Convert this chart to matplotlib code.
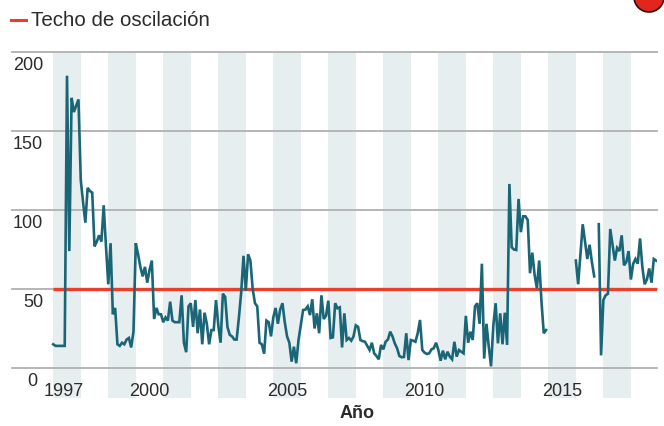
import matplotlib
matplotlib.use('Agg')
import matplotlib.pyplot as plt
import matplotlib.patches as mpatches
import matplotlib.lines as mlines
import matplotlib.transforms as mtransforms
import numpy as np

# Serie mensual desde enero de 1997 (None = sin dato)
anio_inicio = 1997
valores_1997_2001 = [15, 14, 14, 14, 14, 14, 185, 74, 171, 162, 166, 170, 119, 105, 92, 114,
                     112, 111, 77, 80, 84, 80, 103, 77, 53, 79, 34, 38, 15, 14, 16, 15, 18, 19,
                     13, 23, 79, 72, 64, 58, 64, 54, 62, 68, 31, 38, 34, 34, 29, 32, 30, 42]
valores_2001_2005 = [30, 29, 29, 29, 46, 16, 10, 39, 41, 26, 43, 22, 37, 15, 35, 28, 15, 24,
                     24, 43, 27, 16, 47, 45, 26, 21, 20, 18, 18, 32, 48, 71, 49, 72, 68, 50,
                     41, 39, 16, 15, 9, 30, 29, 20, 32, 38, 28, 37, 41, 29, 20, 16, 4]
valores_2005_2010 = [13.5, 3, 17.7, 27, 36.7, 37, 39, 33.5, 43.5, 25, 34.6, 22, 46, 31, 33,
                     42.6, 19, 19.4, 41, 37.8, 38.4, 13, 34.6, 17.7, 19, 17.3, 20, 27, 26, 17.7,
                     17, 16.6, 14, 11.4, 16, 9.3, 7.6, 5.5, 14.6, 11.8, 16.6, 18, 23, 20, 15.6,
                     12.5, 7.6, 6.8, 7, 22, 5, 17.7, 17.3]
valores_2010_2014 = [16.6, 22, 30.4, 11.4, 9.7, 8.9, 9.3, 11.8, 12.5, 16, 11.4, 4.6, 11, 5.5,
                     10.3, 7.2, 5.5, 16.6, 7.2, 11.4, 10.3, 9.3, 33, 16, 23, 17.7, 39, 41, 28,
                     66, 6, 28, 13.5, 1, 27, 41, 15.6, 34.6, 15, 35, 14.6, 116.5, 76.4, 75,
                     74.7, 107, 86, 96, 96, 93.7, 60, 73, 59, 50.4, 68, 42, 22, 24]
hueco_2015 = [None] * 12
valores_2016 = [68, 53, 72, 91, 80, 69, 78, 67, 58]
hueco_2016 = [None]
valores_2016_2018 = [91, 8, 43, 46, 47, 88, 78, 68, 76, 74, 84, 65, 67, 74, 56, 66, 69, 66,
                     82, 64, 53, 56, 63, 54, 69, 68]

techo = 50
anios_sombreados = [1997, 1999, 2001, 2003, 2005, 2007, 2009, 2011, 2013, 2015, 2017]
anios_etiqueta = [1997, 2000, 2005, 2010, 2015]
y_ticks = [0, 50, 100, 150, 200]

serie = (valores_1997_2001 + valores_2001_2005 + valores_2005_2010 + valores_2010_2014
         + hueco_2015 + valores_2016 + hueco_2016 + valores_2016_2018)
valores = np.array([np.nan if v is None else v for v in serie], dtype=float)
fechas = anio_inicio + np.arange(len(valores)) / 12.0

plt.rcParams['font.family'] = ['Liberation Sans', 'DejaVu Sans']
color_texto = '#2b2b2b'

fig = plt.figure(figsize=(6.64, 4.26), dpi=100)
ax = fig.add_axes([12 / 664, 28.3 / 426, 645 / 664, 346 / 426])
x_min, x_max = 1995.5, 2018.95
ax.set_xlim(x_min, x_max)
ax.set_ylim(-18.8, 200.2)
ax.axis('off')

for a in anios_sombreados:
    ax.axvspan(a, a + 1, color='#e6eef0', lw=0, zorder=0)

for v in y_ticks:
    ax.axhline(v, color='#b0b0b0', lw=1.3, zorder=1, clip_on=False)

ax.hlines(techo, anio_inicio, x_max, color='#e8402c', lw=2.4, zorder=2)
ax.plot(fechas, valores, color='#1a6677', lw=1.9, zorder=3, solid_joinstyle='miter')

# etiquetas del eje y, debajo de cada línea
trans_y = mtransforms.blended_transform_factory(ax.transAxes, ax.transData)
for v in y_ticks:
    x_lab = 0.0388 if v == 0 else 0.048
    ax.text(x_lab, v - 11.5, str(v), transform=trans_y, ha='right', va='baseline',
            fontsize=13, color=color_texto, clip_on=False)

for a in anios_etiqueta:
    pos = a + 0.39 if a == 1997 else a + 0.5
    ax.text(pos, -17.7, str(a), ha='center', va='baseline', fontsize=13,
            color=color_texto, clip_on=False)

fig.text(357 / 664, 1 - 414 / 426, 'Año', ha='center', va='center', fontsize=13,
         fontweight='bold', color=color_texto)

# leyenda
fig.add_artist(mlines.Line2D([11 / 664, 26 / 664], [1 - 20 / 426, 1 - 20 / 426],
                             color='#e8402c', lw=2.2, transform=fig.transFigure))
fig.text(31 / 664, 1 - 26 / 426, 'Techo de oscilación', ha='left', va='baseline',
         fontsize=14.8, color=color_texto)

# logotipo recortado en la esquina
fig.add_artist(mpatches.Circle((6.49, 4.26 + 0.03), 0.15, transform=fig.dpi_scale_trans,
                               facecolor='#e3261d', edgecolor='#2a0a08', lw=1.2,
                               clip_on=False))

fig.savefig('out.png', dpi=100)
